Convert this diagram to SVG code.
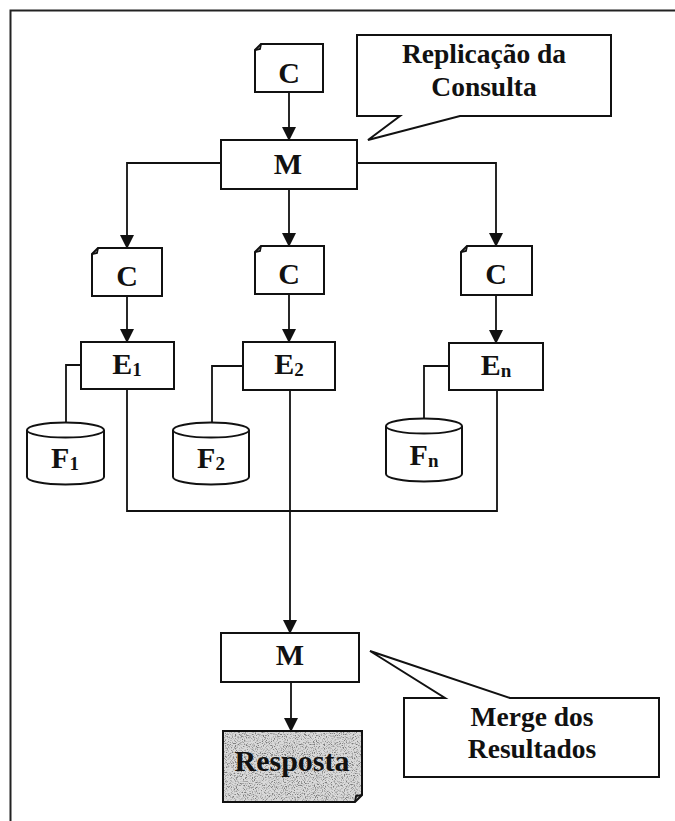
<svg xmlns="http://www.w3.org/2000/svg" width="675" height="821" viewBox="0 0 675 821">
  <style>
    .box { fill: #ffffff; stroke: #111111; stroke-width: 2; }
    .wire { fill: none; stroke: #111111; stroke-width: 1.8; }
    .lbl { font-family: "Liberation Serif", "Times New Roman", serif; font-weight: bold; fill: #111111; text-anchor: middle; }
    .big { font-size: 30px; }
    .note { font-size: 27.5px; }
    .sub { font-size: 19px; }
  </style>
  <defs>
    <marker id="arrow" markerUnits="userSpaceOnUse" markerWidth="16" markerHeight="16" refX="13" refY="7" orient="auto">
      <path d="M0,0 L14,7 L0,14 Z" fill="#111111"/>
    </marker>
    <filter id="grain" x="0" y="0" width="100%" height="100%">
      <feTurbulence type="fractalNoise" baseFrequency="0.9" numOctaves="2" seed="7" result="noise"/>
      <feColorMatrix in="noise" type="matrix" values="0 0 0 0 0.2  0 0 0 0 0.2  0 0 0 0 0.2  4 0 0 0 -1.9" result="specks"/>
      <feComposite in="specks" in2="SourceGraphic" operator="in" result="clipped"/>
      <feMerge>
        <feMergeNode in="SourceGraphic"/>
        <feMergeNode in="clipped"/>
      </feMerge>
    </filter>
  </defs>

  <rect width="675" height="821" fill="#ffffff"/>
  <!-- page frame (runs off the right and bottom edges) -->
  <rect x="10.5" y="10.5" width="720" height="860" fill="none" stroke="#222222" stroke-width="2"/>

  <!-- connectors -->
  <g id="connectors">
    <line class="wire" x1="289" y1="92" x2="289" y2="140" marker-end="url(#arrow)"/>
    <polyline class="wire" points="221,163 127,163 127,248" marker-end="url(#arrow)"/>
    <line class="wire" x1="289" y1="189" x2="289" y2="246" marker-end="url(#arrow)"/>
    <polyline class="wire" points="357,163 496,163 496,246" marker-end="url(#arrow)"/>
    <line class="wire" x1="127" y1="296" x2="127" y2="342" marker-end="url(#arrow)"/>
    <line class="wire" x1="289" y1="294" x2="289" y2="342" marker-end="url(#arrow)"/>
    <line class="wire" x1="496" y1="295" x2="496" y2="343" marker-end="url(#arrow)"/>
    <polyline class="wire" points="81,365 66,365 66,422"/>
    <polyline class="wire" points="243,366 212,366 212,422"/>
    <polyline class="wire" points="449,366 424,366 424,418"/>
    <polyline class="wire" points="127,389 127,511 497,511 497,390"/>
    <line class="wire" x1="290" y1="390" x2="290" y2="633" marker-end="url(#arrow)"/>
    <line class="wire" x1="291" y1="682" x2="291" y2="731" marker-end="url(#arrow)"/>
  </g>

  <!-- query document -->
  <g id="query-top">
    <path class="box" d="M255,50 L261,44 L323,44 L323,92 L255,92 Z"/>
    <path class="wire" d="M255,50 L260,49 L261,44" stroke-width="1.2"/>
    <text class="lbl big" x="289" y="83">C</text>
  </g>

  <g id="callout-replication">
    <path class="box" d="M357,35 L611,35 L611,116 L460,116 L368,140 L400,116 L357,116 Z"/>
    <text class="lbl note" x="484" y="63">Replicação da</text>
    <text class="lbl note" x="484" y="96">Consulta</text>
  </g>

  <g id="mediator-top">
    <rect class="box" x="221" y="140" width="136" height="49"/>
    <text class="lbl big" x="288" y="174">M</text>
  </g>

  <g id="query-1">
    <path class="box" d="M92,254 L98,248 L162,248 L162,296 L92,296 Z"/>
    <path class="wire" d="M92,254 L97,253 L98,248" stroke-width="1.2"/>
    <text class="lbl big" x="127" y="286">C</text>
  </g>
  <g id="query-2">
    <path class="box" d="M255,252 L261,246 L324,246 L324,294 L255,294 Z"/>
    <path class="wire" d="M255,252 L260,251 L261,246" stroke-width="1.2"/>
    <text class="lbl big" x="289" y="284">C</text>
  </g>
  <g id="query-n">
    <path class="box" d="M461,252 L467,246 L532,246 L532,295 L461,295 Z"/>
    <path class="wire" d="M461,252 L466,251 L467,246" stroke-width="1.2"/>
    <text class="lbl big" x="496" y="284">C</text>
  </g>

  <g id="executor-1">
    <rect class="box" x="81" y="342" width="93" height="47"/>
    <text class="lbl big" x="127" y="374">E<tspan class="sub" dy="2">1</tspan></text>
  </g>
  <g id="executor-2">
    <rect class="box" x="243" y="342" width="92" height="48"/>
    <text class="lbl big" x="289" y="374">E<tspan class="sub" dy="2">2</tspan></text>
  </g>
  <g id="executor-n">
    <rect class="box" x="449" y="343" width="94" height="47"/>
    <text class="lbl big" x="496" y="375">E<tspan class="sub" dy="2">n</tspan></text>
  </g>

  <g id="source-1">
    <path class="box" d="M27,430 A38.5,7.5 0 0 1 104,430 L104,477 A38.5,7.5 0 0 1 27,477 Z"/>
    <path class="wire" d="M27,430 A38.5,7.5 0 0 0 104,430"/>
    <text class="lbl big" x="65" y="468">F<tspan class="sub" dy="2">1</tspan></text>
  </g>
  <g id="source-2">
    <path class="box" d="M173,430 A38,7.5 0 0 1 249,430 L249,477 A38,7.5 0 0 1 173,477 Z"/>
    <path class="wire" d="M173,430 A38,7.5 0 0 0 249,430"/>
    <text class="lbl big" x="211" y="468">F<tspan class="sub" dy="2">2</tspan></text>
  </g>
  <g id="source-n">
    <path class="box" d="M386,426 A38,7.5 0 0 1 462,426 L462,474 A38,7.5 0 0 1 386,474 Z"/>
    <path class="wire" d="M386,426 A38,7.5 0 0 0 462,426"/>
    <text class="lbl big" x="424" y="465">F<tspan class="sub" dy="2">n</tspan></text>
  </g>

  <g id="mediator-bottom">
    <rect class="box" x="221" y="633" width="138" height="49"/>
    <text class="lbl big" x="290" y="665">M</text>
  </g>

  <g id="answer">
    <path d="M223,731 L362,731 L362,795 L355,802 L223,802 Z" fill="#dadada" filter="url(#grain)"/>
    <path d="M223,731 L362,731 L362,795 L355,802 L223,802 Z" fill="none" stroke="#111111" stroke-width="2"/>
    <path class="wire" d="M355,802 L356,796 L362,795" stroke-width="1.2"/>
    <text class="lbl big" x="292" y="771">Resposta</text>
  </g>

  <g id="callout-merge">
    <path class="box" d="M404,698 L445,698 L370,651 L510,698 L659,698 L659,777 L404,777 Z"/>
    <text class="lbl note" x="532" y="726">Merge dos</text>
    <text class="lbl note" x="532" y="758">Resultados</text>
  </g>
</svg>
